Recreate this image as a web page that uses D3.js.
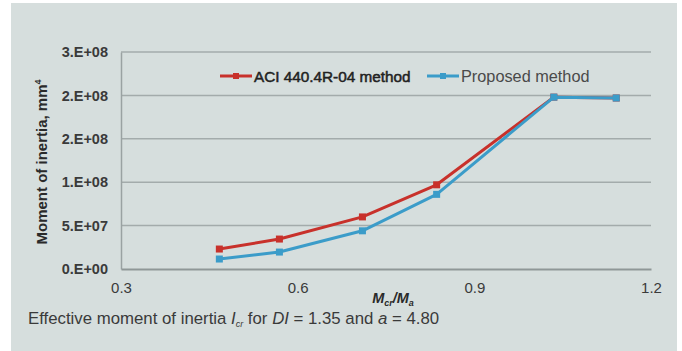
<!DOCTYPE html>
<html>
<head>
<meta charset="utf-8">
<script src="https://cdn.jsdelivr.net/npm/d3@7"></script>
<style>
  body { margin: 0; background: #fff; }
  svg { display: block; font-family: "Liberation Sans", Arial, sans-serif; }
</style>
</head>
<body>
<svg width="682" height="351"></svg>
<script>
// Mcr/Ma ratio for each point
const ratios = [0.467, 0.569, 0.710, 0.836, 1.035, 1.141];
// moment of inertia, mm4
const aciValues = [2.3e7, 3.45e7, 6.0e7, 9.7e7, 1.98e8, 1.97e8];
const proposedValues = [1.15e7, 1.95e7, 4.4e7, 8.6e7, 1.98e8, 1.97e8];
const seriesNames = ["ACI 440.4R-04 method", "Proposed method"];
const xTicks = [0.3, 0.6, 0.9, 1.2];
const yTicks = [0, 5e7, 1e8, 1.5e8, 2e8, 2.5e8];
const yTickLabels = ["0.E+00", "5.E+07", "1.E+08", "2.E+08", "2.E+08", "3.E+08"];

const colors = { aci: '#c8312b', proposed: '#3b9cc9' };
const svg = d3.select('svg');

// gray panel behind everything
svg.append('rect')
    .attr('x', 11).attr('y', 3)
    .attr('width', 666).attr('height', 348)
    .attr('fill', '#d6dedd');

const plotL = 121, plotR = 651, plotT = 52, plotB = 269;

let xScale = d3.scaleLinear()
    .domain([0.3, 1.2])
    .range([plotL, plotR]);
let yScale = d3.scaleLinear()
    .domain([0, 2.5e8])
    .range([plotB, plotT]);

// gridlines
svg.append('g')
    .selectAll('line')
    .data(yTicks.filter(d => d > 0))
    .enter()
    .append('line')
    .attr('x1', plotL).attr('x2', plotR)
    .attr('y1', d => yScale(d)).attr('y2', d => yScale(d))
    .attr('stroke', '#a3abab')
    .attr('stroke-width', 1.5);

// y axis
let yAxis = svg.append('g')
    .attr('transform', `translate(${plotL}, 0)`)
    .call(d3.axisLeft(yScale).tickValues(yTicks).tickSize(0).tickPadding(13)
        .tickFormat((d, i) => yTickLabels[i]));
yAxis.select('.domain').attr('stroke', '#9aa2a2').attr('stroke-width', 1.5);
yAxis.selectAll('text')
    .attr('font-size', '14.5px')
    .attr('font-weight', 'bold')
    .attr('fill', '#3a3a3a')
    .attr('font-family', '"Liberation Sans", Arial, sans-serif');

// x axis
let xAxis = svg.append('g')
    .attr('transform', `translate(0, ${plotB})`)
    .call(d3.axisBottom(xScale).tickValues(xTicks).tickSize(0).tickPadding(13)
        .tickFormat(d3.format('.1f')));
xAxis.select('.domain').attr('stroke', '#8f9797').attr('stroke-width', 2);
xAxis.selectAll('text')
    .attr('font-size', '15px')
    .attr('fill', '#3a3a3a')
    .attr('font-family', '"Liberation Sans", Arial, sans-serif');

// lines
const line = d3.line()
    .x((d, i) => xScale(ratios[i]))
    .y(d => yScale(d));

function drawSeries(values, color) {
    svg.append('path')
        .datum(values)
        .attr('d', line)
        .attr('fill', 'none')
        .attr('stroke', color)
        .attr('stroke-width', 3)
        .attr('stroke-linejoin', 'round');
    svg.append('g')
        .selectAll('rect')
        .data(values)
        .enter()
        .append('rect')
        .attr('x', (d, i) => xScale(ratios[i]) - 3.5)
        .attr('y', d => yScale(d) - 3.5)
        .attr('width', 7).attr('height', 7)
        .attr('fill', color);
}
drawSeries(aciValues, colors.aci);
drawSeries(proposedValues, colors.proposed);

// legend
const legend = [
    { name: seriesNames[0], color: colors.aci, x: 220, fill: '#222', stroke: 0.5, size: '15.3px' },
    { name: seriesNames[1], color: colors.proposed, x: 427, fill: '#4a4a4a', stroke: 0, size: '16.3px' }
];
legend.forEach(l => {
    svg.append('line')
        .attr('x1', l.x).attr('x2', l.x + 32)
        .attr('y1', 76).attr('y2', 76)
        .attr('stroke', l.color).attr('stroke-width', 3);
    svg.append('rect')
        .attr('x', l.x + 13).attr('y', 73)
        .attr('width', 6).attr('height', 6)
        .attr('fill', l.color);
    svg.append('text')
        .attr('x', l.x + 34).attr('y', 82)
        .attr('font-size', l.size)
        .attr('fill', l.fill)
        .attr('stroke', l.fill)
        .attr('stroke-width', l.stroke)
        .text(l.name);
});

// y title
svg.append('text')
    .attr('transform', 'translate(47,162) rotate(-90)')
    .attr('text-anchor', 'middle')
    .attr('font-size', '15px')
    .attr('font-weight', 'bold')
    .attr('fill', '#2a2a2a')
    .html('Moment of inertia, mm<tspan dy="-6" font-size="9px">4</tspan>');

// x title
svg.append('text')
    .attr('x', 393).attr('y', 303)
    .attr('text-anchor', 'middle')
    .attr('font-size', '14.5px')
    .attr('font-weight', 'bold')
    .attr('font-style', 'italic')
    .attr('fill', '#2a2a2a')
    .html('M<tspan dy="3" font-size="9px">cr</tspan><tspan dy="-3">/M</tspan><tspan dy="3" font-size="9px">a</tspan>');

// caption
svg.append('text')
    .attr('x', 28).attr('y', 324)
    .attr('font-size', '16.8px')
    .attr('fill', '#3a3a3a')
    .html('Effective moment of inertia <tspan font-style="italic">I</tspan><tspan dy="3" font-size="9px" font-style="italic">cr</tspan><tspan dy="-3"> for </tspan><tspan font-style="italic">DI</tspan> = 1.35 and <tspan font-style="italic">a</tspan> = 4.80');
</script>
</body>
</html>
